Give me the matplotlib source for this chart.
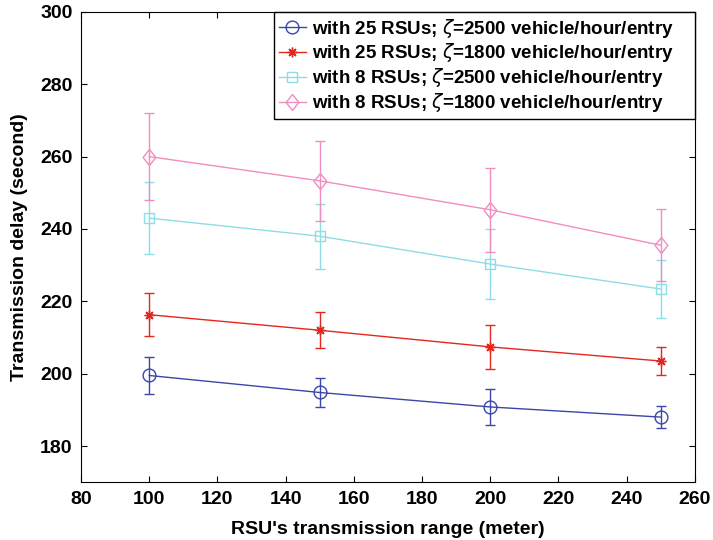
import matplotlib
matplotlib.use("Agg")
import matplotlib.pyplot as plt
from matplotlib.patches import Rectangle

ranges = [100, 150, 200, 250]

delay_25_2500 = [199.5, 194.8, 190.8, 188.0]
err_25_2500 = [5.0, 4.0, 5.0, 3.0]
delay_25_1800 = [216.3, 212.0, 207.4, 203.5]
err_25_1800 = [6.0, 5.0, 6.0, 4.0]
delay_8_2500 = [243.0, 238.0, 230.3, 223.4]
err_8_2500 = [10.0, 9.0, 9.6, 8.0]
delay_8_1800 = [260.0, 253.3, 245.3, 235.5]
err_8_1800 = [12.0, 11.0, 11.6, 10.0]

labels = [
    r"with 25 RSUs; $\zeta$=2500 vehicle/hour/entry",
    r"with 25 RSUs; $\zeta$=1800 vehicle/hour/entry",
    r"with 8 RSUs; $\zeta$=2500 vehicle/hour/entry",
    r"with 8 RSUs; $\zeta$=1800 vehicle/hour/entry",
]

# MATLAB-like markers: open circle, asterisk, open square, tall diamond
diamond = [(0, -1), (0.8, 0), (0, 1), (-0.8, 0), (0, -1)]
series = [
    (delay_25_2500, err_25_2500, "#3A46A8", "o", 9.2),
    (delay_25_1800, err_25_1800, "#E3261E", (8, 2, 0), 7),
    (delay_8_2500, err_8_2500, "#8EDDE6", "s", 7.5),
    (delay_8_1800, err_8_1800, "#F08EC0", diamond, 11.5),
]

plt.rcParams["font.family"] = ["Liberation Sans", "DejaVu Sans"]
plt.rcParams["mathtext.fontset"] = "dejavusans"

fig = plt.figure(figsize=(7.13, 5.4), dpi=100)
ax = fig.add_axes([0.1136, 0.107, 0.861, 0.871])

for (y, e, c, m, ms), lab in zip(series, labels):
    ax.errorbar(ranges, y, yerr=e, fmt="none", ecolor=c, elinewidth=1.0,
                capsize=3.7, capthick=1.0)
    ax.plot(ranges, y, color=c, lw=1.0, marker=m, ms=ms, mfc="none",
            mec=c, mew=1.0, label=lab)

ax.set_xlim(80, 260)
ax.set_ylim(170, 300)
ax.set_xticks(range(80, 261, 20))
ax.set_yticks(range(180, 301, 20))
ax.tick_params(direction="in", top=True, right=True, length=4, width=0.8,
               labelsize=14)
ax.tick_params(axis="x", pad=6)
ax.tick_params(axis="y", pad=6)
for lbl in ax.get_xticklabels() + ax.get_yticklabels():
    lbl.set_fontweight("bold")
for sp in ax.spines.values():
    sp.set_linewidth(0.8)

ax.set_xlabel("RSU's transmission range (meter)", fontsize=14,
              fontweight="bold", labelpad=10)
ax.set_ylabel("Transmission delay (second)", fontsize=14,
              fontweight="bold", labelpad=9)

# MATLAB legends leave empty room right of the text: shift the legend left
# and draw its frame by hand, wider by that gap
gap = 16  # px
fig.canvas.draw()
ax_w = ax.get_window_extent().width
leg = ax.legend(loc="upper right", bbox_to_anchor=(1.0 - gap / ax_w, 1.0),
                prop={"weight": "bold", "size": 13.5},
                frameon=False, borderpad=0.25, labelspacing=0.1,
                handlelength=1.45, handletextpad=0.35, borderaxespad=0.0)
fig.canvas.draw()
bb = leg.get_window_extent()
(x0, y0), (x1, y1) = fig.transFigure.inverted().transform(
    [(bb.x0, bb.y0), (bb.x1 + gap, bb.y1)])
ax.add_patch(Rectangle((x0, y0), x1 - x0, y1 - y0, transform=fig.transFigure,
                       facecolor="white", edgecolor="black", lw=1.0,
                       zorder=4.5, clip_on=False))

fig.savefig("out.png", dpi=100)
